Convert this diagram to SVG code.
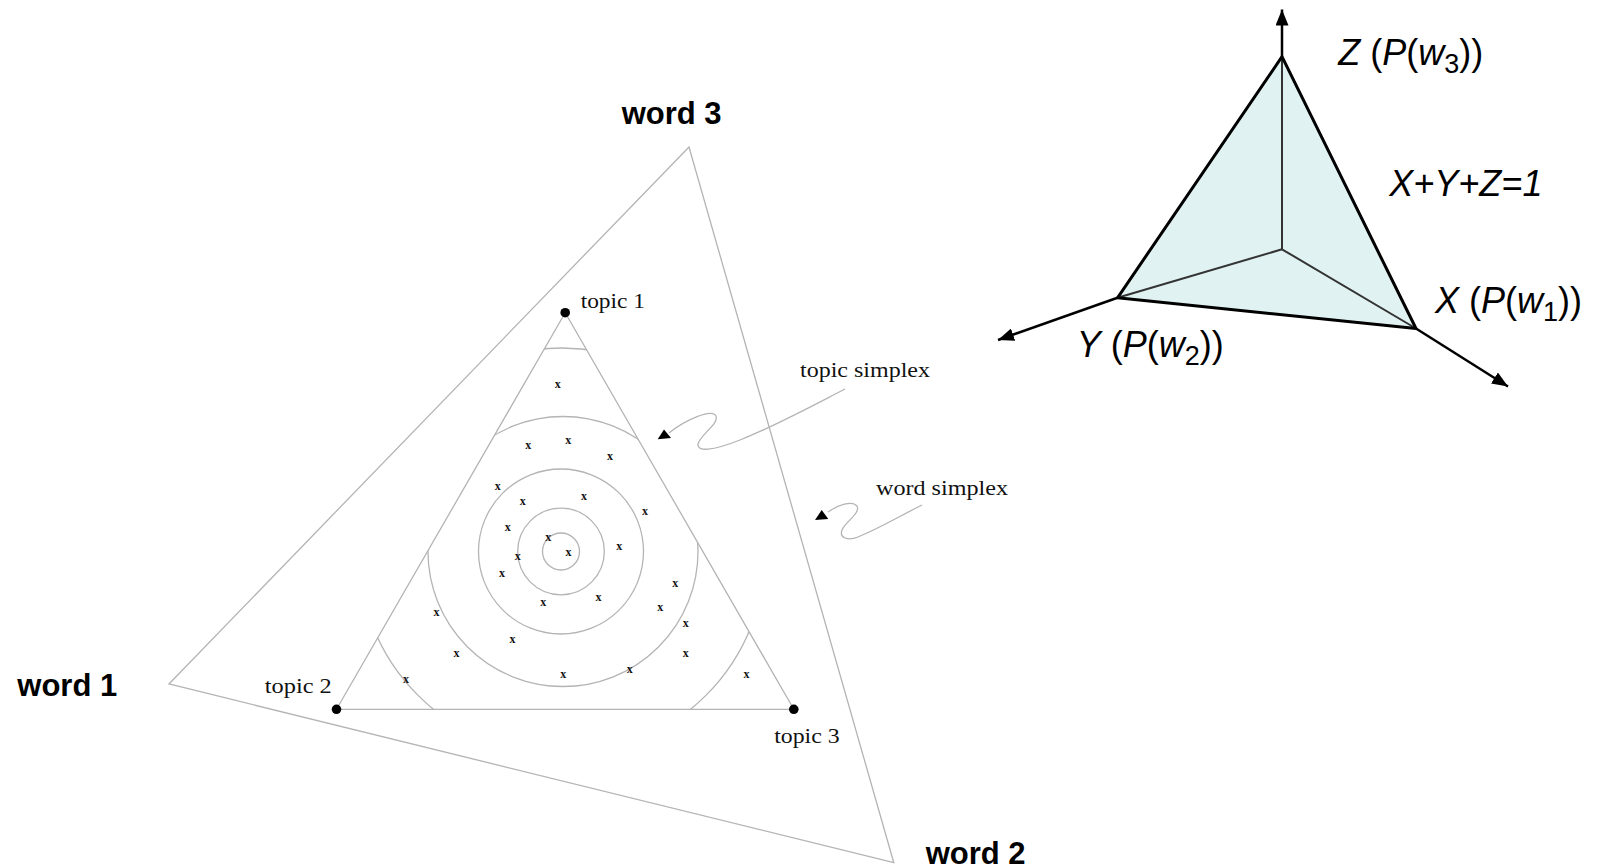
<svg xmlns="http://www.w3.org/2000/svg" width="1603" height="868" viewBox="0 0 1603 868">
<style>
.thin{fill:none;stroke:#b4b4b4;stroke-width:1.3}
.serif{font-family:"Liberation Serif","Times New Roman",serif;font-size:22px;fill:#111}
.xm{font-family:"Liberation Serif","Times New Roman",serif;font-size:12px;font-weight:bold;fill:#111;text-anchor:middle}
.word{font-family:"Liberation Sans",Arial,sans-serif;font-size:31px;font-weight:bold;fill:#000}
.lbl{font-family:"Liberation Sans",Arial,sans-serif;font-size:36px;fill:#000}
.it{font-style:italic}
.sub{font-size:27px}
.edge{fill:none;stroke:#000;stroke-width:3;stroke-linejoin:round}
.inner{fill:none;stroke:#333;stroke-width:2}
.axis{fill:none;stroke:#000;stroke-width:2.5}
.dot{fill:#000}
</style>
<defs>
<marker id="ah" markerUnits="userSpaceOnUse" markerWidth="16" markerHeight="13" viewBox="0 0 16 13" refX="16" refY="6.5" orient="auto">
<path d="M0,0 L16,6.5 L0,13 z" fill="#000"/>
</marker>
<clipPath id="tclip">
<polygon points="565.2,312.7 336.5,709.3 793.8,709.3"/>
</clipPath>
</defs>
<rect width="1603" height="868" fill="#fff"/>

<g id="word-simplex">
<polygon class="thin" points="689,147 169,684 893.8,862.7"/>
</g>

<g id="topic-simplex">
<polygon class="thin" points="565.2,312.7 336.5,709.3 793.8,709.3"/>
<g clip-path="url(#tclip)">
<circle class="thin" cx="561" cy="551.5" r="18.5"/>
<circle class="thin" cx="561" cy="551.5" r="43.3"/>
<circle class="thin" cx="561" cy="551.5" r="82.5"/>
<circle class="thin" cx="563" cy="551.5" r="135"/>
<circle class="thin" cx="562" cy="551.5" r="203.5"/>
</g>
</g>

<g id="topic-points">
<circle class="dot" cx="565.2" cy="312.7" r="4.8"/>
<circle class="dot" cx="336.5" cy="709.3" r="4.8"/>
<circle class="dot" cx="793.8" cy="709.3" r="4.8"/>
<text class="serif" x="580.7" y="307.5" textLength="64.3" lengthAdjust="spacingAndGlyphs">topic 1</text>
<text class="serif" x="264.8" y="693.3" textLength="67" lengthAdjust="spacingAndGlyphs">topic 2</text>
<text class="serif" x="774.2" y="743.3" textLength="65.5" lengthAdjust="spacingAndGlyphs">topic 3</text>
</g>

<g id="samples">
<text class="xm" x="557.7" y="388">x</text>
<text class="xm" x="528.3" y="448.7">x</text>
<text class="xm" x="568.3" y="444">x</text>
<text class="xm" x="610" y="459.7">x</text>
<text class="xm" x="497.7" y="489.5">x</text>
<text class="xm" x="522.7" y="504.7">x</text>
<text class="xm" x="584" y="499.7">x</text>
<text class="xm" x="645" y="515.3">x</text>
<text class="xm" x="507.7" y="531.3">x</text>
<text class="xm" x="548.3" y="541.3">x</text>
<text class="xm" x="568.5" y="555.7">x</text>
<text class="xm" x="619.3" y="550.3">x</text>
<text class="xm" x="517.7" y="560.3">x</text>
<text class="xm" x="502" y="576.5">x</text>
<text class="xm" x="675.2" y="587.3">x</text>
<text class="xm" x="543.2" y="606.3">x</text>
<text class="xm" x="598.6" y="601.3">x</text>
<text class="xm" x="660.3" y="611.3">x</text>
<text class="xm" x="436.5" y="616.3">x</text>
<text class="xm" x="685.7" y="627.3">x</text>
<text class="xm" x="512.6" y="643">x</text>
<text class="xm" x="456.6" y="657">x</text>
<text class="xm" x="685.7" y="657">x</text>
<text class="xm" x="563.2" y="677.7">x</text>
<text class="xm" x="629.7" y="673">x</text>
<text class="xm" x="405.9" y="683.3">x</text>
<text class="xm" x="746.5" y="678">x</text>
</g>

<g id="connectors">
<path class="thin" d="M669,433 C685,420 712,408 716,416 C719,424 700,435 698,444 C697,452 712,451 740,440 C775,426 810,407 845,389"/>
<polygon points="657.7,439.3 671,438 664,429.5" fill="#000"/>
<path class="thin" d="M828,512 C838,505 852,500 857,506 C861,513 845,522 842,530 C839,538 848,541 858,537 C880,528 900,516 922,505"/>
<polygon points="815,520 828.3,519 821.7,510" fill="#000"/>
</g>

<g id="pointer-labels">
<text class="serif" x="800" y="377.3" textLength="130" lengthAdjust="spacingAndGlyphs">topic simplex</text>
<text class="serif" x="876" y="495" textLength="132" lengthAdjust="spacingAndGlyphs">word simplex</text>
</g>

<g id="word-labels">
<text class="word" x="621.7" y="124.3">word 3</text>
<text class="word" x="17.3" y="696">word 1</text>
<text class="word" x="925.7" y="864">word 2</text>
</g>

<g id="simplex-3d">
<polygon points="1282,56.7 1117.5,297.8 1416,328.5" fill="#e1f2f2"/>
<line class="inner" x1="1282" y1="249.3" x2="1282" y2="56.7"/>
<line class="inner" x1="1282" y1="249.3" x2="1117.5" y2="297.8"/>
<line class="inner" x1="1282" y1="249.3" x2="1416" y2="328.5"/>
<polygon class="edge" points="1282,56.7 1117.5,297.8 1416,328.5"/>
</g>

<g id="axes">
<line class="axis" x1="1282" y1="56.7" x2="1282" y2="9.5" marker-end="url(#ah)"/>
<line class="axis" x1="1117.5" y1="297.8" x2="998" y2="340" marker-end="url(#ah)"/>
<line class="axis" x1="1416" y1="328.5" x2="1508" y2="386.5" marker-end="url(#ah)"/>
</g>

<g id="axis-labels">
<text class="lbl" x="1338.3" y="65"><tspan class="it">Z</tspan> (<tspan class="it">P</tspan>(<tspan class="it">w</tspan><tspan class="sub" dy="8">3</tspan><tspan dy="-8">))</tspan></text>
<text class="lbl it" x="1389.3" y="195.7">X+Y+Z=1</text>
<text class="lbl" x="1435" y="313.3"><tspan class="it">X</tspan> (<tspan class="it">P</tspan>(<tspan class="it">w</tspan><tspan class="sub" dy="8">1</tspan><tspan dy="-8">))</tspan></text>
<text class="lbl" x="1076.7" y="356.7"><tspan class="it">Y</tspan> (<tspan class="it">P</tspan>(<tspan class="it">w</tspan><tspan class="sub" dy="8">2</tspan><tspan dy="-8">))</tspan></text>
</g>
</svg>
